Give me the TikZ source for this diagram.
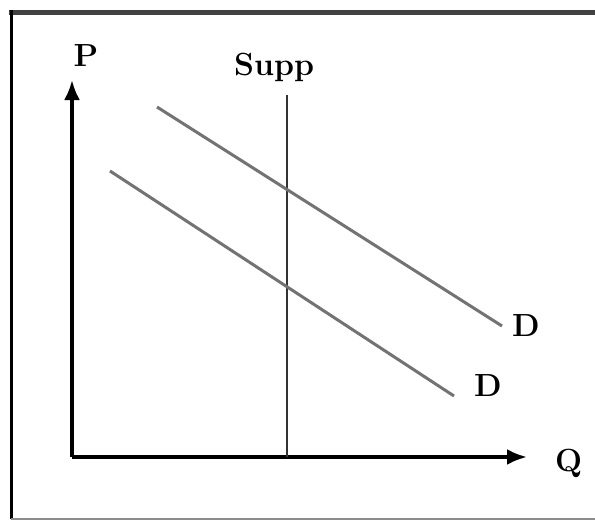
\documentclass[tikz,border=0pt]{standalone}
\usetikzlibrary{arrows.meta}
\tikzset{
  axis/.style={line width=3.5pt, -{Latex[length=20pt,width=16pt]}},
  demand/.style={line width=3pt, black!55},
  lbl/.style={font=\fontsize{32}{36}\selectfont\bfseries, inner sep=0pt}
}
\begin{document}
\begin{tikzpicture}[x=1pt,y=-1pt]
        \useasboundingbox (0,0) rectangle (595,522);
        % frame
        \draw[line width=5pt, black!75] (9,12) -- (595,12);
        \draw[line width=3pt] (11,10) -- (11,519);
        \draw[line width=1.5pt, black!45] (11,519) -- (595,519);

        % axes
        \coordinate (O) at (72,457);
        \coordinate (ytip) at (72,80);
        \coordinate (xtip) at (527,457);
        \draw[axis] (O) -- (ytip);
        \draw[axis] (O) -- (xtip);
        \node[lbl] (P) at (86,56) {P};
        \node[lbl, anchor=west] (Q) at (555,463) {Q};

        % supply
        \node[lbl] (supp) at (274,67) {Supp};
        \coordinate (stop) at (287,95);
        \coordinate (sbot) at (287,457);
        \draw[line width=2pt, black!80] (stop) -- (sbot);

        % demand curves
        \coordinate (d1a) at (157,107);
        \coordinate (d1b) at (502,326);
        \coordinate (d2a) at (110,171);
        \coordinate (d2b) at (454,396);
        \draw[demand] (d1a) -- (d1b);
        \draw[demand] (d2a) -- (d2b);
        \node[lbl] (D1) at (526,326) {D};
        \node[lbl] (D2) at (488,386) {D};
      \end{tikzpicture}
\end{document}
